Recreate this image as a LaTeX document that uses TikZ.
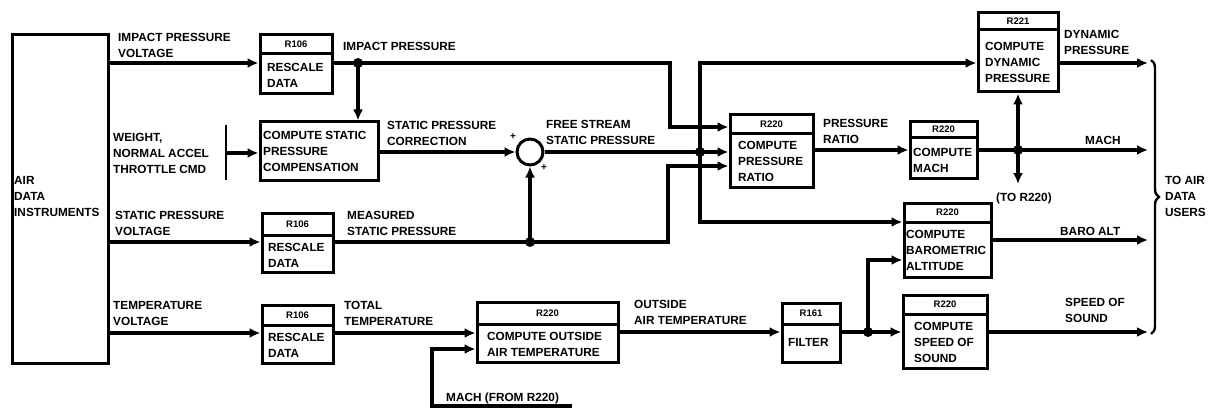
\documentclass[tikz,border=0pt]{standalone}
\usepackage{fontspec}
\setmainfont{Liberation Sans}
\usetikzlibrary{arrows.meta,fit,decorations.pathreplacing}
\newcommand{\rbox}[7]{%
  \node[boxst, fit={(#2,#3) (#4,#5)}] (#1) {};
  \draw[line width=3pt] (#2,#6) -- (#4,#6);
  \node[hdr] (#1h) at ({(#2+#4)/2},{(#3+#6)/2}) {#7};}
\begin{document}
\begin{tikzpicture}[x=1pt,y=-1pt,
  wire/.style={line width=3.4pt},
  arr/.style={line width=3.4pt, -{Latex[length=11pt,width=10pt]}},
  boxst/.style={draw, line width=3pt, inner sep=0pt},
  lbl/.style={font=\fontsize{11.8}{16}\selectfont\bfseries, align=left, inner sep=0pt, anchor=west},
  hdr/.style={font=\fontsize{9.5}{10}\selectfont\bfseries, inner sep=0pt},
  dotst/.style={circle, fill, inner sep=0pt, minimum size=10pt},
  plus/.style={font=\fontsize{10}{10}\selectfont\bfseries, inner sep=0pt}]
\useasboundingbox (0,0) rectangle (1209,409);

% boxes
\node[boxst, fit={(12,35) (108,363)}] (adi) {};
\node[lbl] (adit) at (14,196) {AIR\\DATA\\INSTRUMENTS};

\rbox{r106a}{260}{35}{332}{94}{54}{R106}
\node[lbl] (r106ab) at (267,75) {RESCALE\\DATA};

\node[boxst, fit={(260,122) (378,180)}] (cspc) {};
\node[lbl] (cspct) at (263,151) {COMPUTE STATIC\\PRESSURE\\COMPENSATION};

\rbox{r106b}{262}{213}{333}{272}{235}{R106}
\node[lbl] (r106bb) at (268,255) {RESCALE\\DATA};

\rbox{r106c}{262}{305}{333}{363}{325}{R106}
\node[lbl] (r106cb) at (268,345) {RESCALE\\DATA};

\rbox{coat}{477}{302}{618}{362}{324}{R220}
\node[lbl] (coatb) at (487,344) {COMPUTE OUTSIDE\\AIR TEMPERATURE};

\rbox{filt}{782}{303}{840}{362}{324}{R161}
\node[lbl] (filtb) at (788,342) {FILTER};

\rbox{cpr}{730}{115}{813}{187}{133}{R220}
\node[lbl] (cprb) at (738,161) {COMPUTE\\PRESSURE\\RATIO};

\rbox{mach}{910}{122}{977}{178}{137}{R220}
\node[lbl] (machb) at (913,160) {COMPUTE\\MACH};

\rbox{cdp}{978}{13}{1058}{92}{30}{R221}
\node[lbl] (cdpb) at (985,62) {COMPUTE\\DYNAMIC\\PRESSURE};

\rbox{baro}{904}{203}{991}{277}{222}{R220}
\node[lbl] (barob) at (906,250) {COMPUTE\\BAROMETRIC\\ALTITUDE};

\rbox{sos}{903}{295}{987}{368}{314}{R220}
\node[lbl] (sosb) at (914,342) {COMPUTE\\SPEED OF\\SOUND};

\node[draw, circle, line width=3pt, minimum size=26pt, inner sep=0pt] (sum) at (530,152) {};
\node[plus] (pa) at (513,137) {+};
\node[plus] (pb) at (544,168) {+};

% coordinates
\coordinate (j1) at (358,63);
\coordinate (j2) at (700,152);
\coordinate (j3) at (530,242);
\coordinate (j4) at (868,332);
\coordinate (j5) at (1018,150);
\coordinate (ipR) at (670,127);
\coordinate (msR) at (668,166);
\coordinate (fsTop) at (700,63);
\coordinate (fsBot) at (700,222);
\coordinate (y3) at (0,333);
\coordinate (machin) at (572,406);
\coordinate (machc) at (432,349);
\coordinate (baroin) at (868,260);
\coordinate (toR) at (1018,184);
\coordinate (oD) at (1148,63);
\coordinate (oM) at (1148,150);
\coordinate (oB) at (1148,240);
\coordinate (oS) at (1148,332);
\coordinate (barT) at (226,125);
\coordinate (barB) at (226,180);
\coordinate (barM) at (226,153);
\coordinate (brT) at (1151,60);
\coordinate (brB) at (1151,334);

% connectors
\draw[arr] (adi.east |- j1) -- (r106a.west |- j1);
\draw[wire] (r106a.east |- j1) -- (j1);
\draw[arr] (j1) -- (cspc.north -| j1);
\draw[arr] (j1) -| (ipR) -- (cpr.west |- ipR);
\draw[line width=2.4pt] (barT) -- (barB);
\draw[arr] (barM) -- (cspc.west |- barM);
\draw[arr] (cspc.east |- sum) -- (sum.west);
\draw[wire] (sum.east) -- (j2);
\draw[arr] (j2) -- (cpr.west |- j2);
\draw[arr] (j2) -- (fsTop) -- (cdp.west |- fsTop);
\draw[arr] (j2) -- (fsBot) -- (baro.west |- fsBot);
\draw[arr] (adi.east |- j3) -- (r106b.west |- j3);
\draw[wire] (r106b.east |- j3) -- (j3);
\draw[arr] (j3) -- (sum.south);
\draw[arr] (j3) -| (msR) -- (cpr.west |- msR);
\draw[arr] (adi.east |- y3) -- (r106c.west |- y3);
\draw[arr] (r106c.east |- y3) -- (coat.west |- y3);
\draw[arr] (machin) -| (machc) -- (coat.west |- machc);
\draw[arr] (coat.east |- j4) -- (filt.west |- j4);
\draw[wire] (filt.east |- j4) -- (j4);
\draw[arr] (j4) -- (sos.west |- j4);
\draw[arr] (j4) -- (baroin) -- (baro.west |- baroin);
\draw[arr] (cpr.east |- j5) -- (mach.west |- j5);
\draw[wire] (mach.east |- j5) -- (j5);
\draw[arr] (j5) -- (oM);
\draw[arr] (j5) -- (cdp.south -| j5);
\draw[arr] (j5) -- (toR);
\draw[arr] (cdp.east |- oD) -- (oD);
\draw[arr] (baro.east |- oB) -- (oB);
\draw[arr] (sos.east |- oS) -- (oS);
\draw[line width=2.4pt, decorate, decoration={brace, amplitude=8pt}] (brT) -- (brB);

% junction dots
\node[dotst] (d1) at (j1) {};
\node[dotst] (d2) at (j2) {};
\node[dotst] (d3) at (j3) {};
\node[dotst] (d4) at (j4) {};
\node[dotst] (d5) at (j5) {};

% labels
\node[lbl] (l1) at (118,45) {IMPACT PRESSURE\\VOLTAGE};
\node[lbl] (l2) at (343,46) {IMPACT PRESSURE};
\node[lbl] (l3) at (113,153) {WEIGHT,\\NORMAL ACCEL\\THROTTLE CMD};
\node[lbl] (l4) at (115,223) {STATIC PRESSURE\\VOLTAGE};
\node[lbl] (l5) at (347,223) {MEASURED\\STATIC PRESSURE};
\node[lbl] (l6) at (113,313) {TEMPERATURE\\VOLTAGE};
\node[lbl] (l7) at (344,313) {TOTAL\\TEMPERATURE};
\node[lbl] (l8) at (634,312) {OUTSIDE\\AIR TEMPERATURE};
\node[lbl] (l9) at (446,398) {MACH (FROM R220)};
\node[lbl] (l10) at (387,133) {STATIC PRESSURE\\CORRECTION};
\node[lbl] (l11) at (546,132) {FREE STREAM\\STATIC PRESSURE};
\node[lbl] (l12) at (823,131) {PRESSURE\\RATIO};
\node[lbl] (l13) at (1064,42) {DYNAMIC\\PRESSURE};
\node[lbl] (l14) at (1085,140) {MACH};
\node[lbl] (l15) at (996,198) {(TO R220)};
\node[lbl] (l16) at (1060,231) {BARO ALT};
\node[lbl] (l17) at (1065,310) {SPEED OF\\SOUND};
\node[lbl] (l18) at (1165,196) {TO AIR\\DATA\\USERS};
\end{tikzpicture}
\end{document}
